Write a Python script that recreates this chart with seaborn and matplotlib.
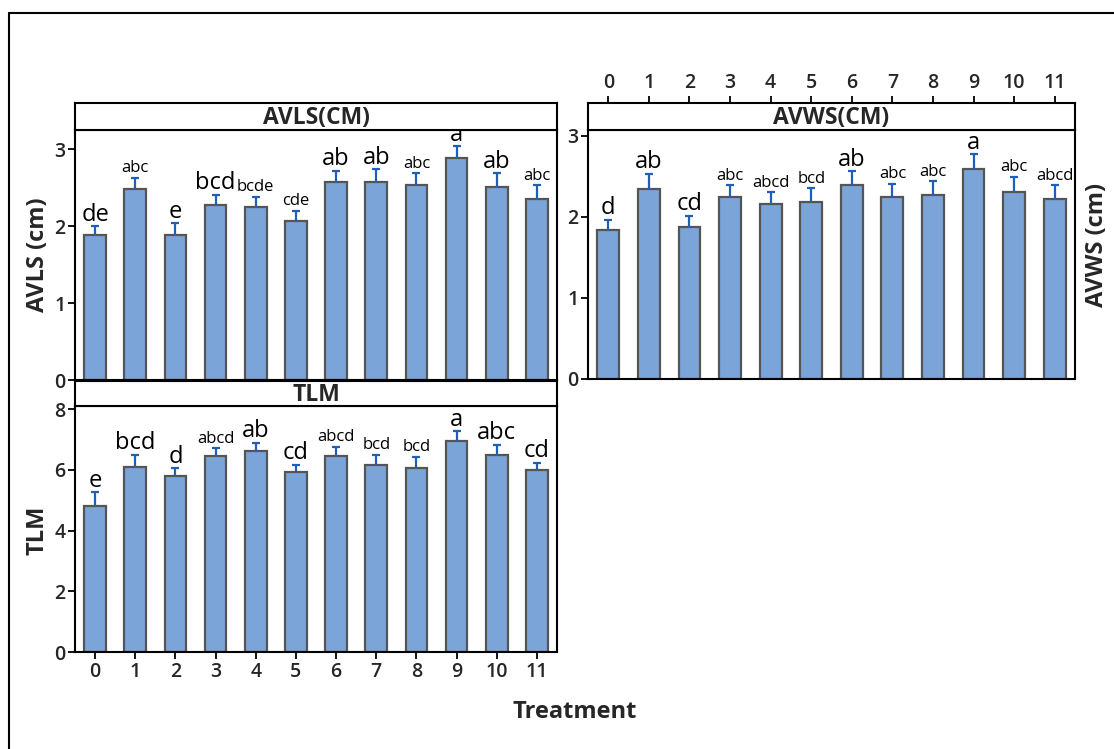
import numpy as np
import pandas as pd
import matplotlib
matplotlib.use("Agg")
import matplotlib.pyplot as plt
import seaborn as sns
from matplotlib.lines import Line2D

# ---------------- data ----------------
treatments = list(range(12))
tick_labels = [str(t) for t in treatments]

avls_mean = [1.89, 2.48, 1.89, 2.28, 2.25, 2.07, 2.58, 2.58, 2.53, 2.89, 2.51, 2.35]
avls_se = [0.11, 0.15, 0.15, 0.13, 0.13, 0.13, 0.14, 0.16, 0.16, 0.15, 0.18, 0.18]
avls_letters = ["de", "abc", "e", "bcd", "bcde", "cde", "ab", "ab", "abc", "a", "ab", "abc"]
avls_big = [1, 0, 1, 1, 0, 0, 1, 1, 0, 1, 1, 0]

avws_mean = [1.84, 2.34, 1.87, 2.25, 2.16, 2.18, 2.39, 2.25, 2.27, 2.59, 2.30, 2.22]
avws_se = [0.12, 0.19, 0.14, 0.14, 0.14, 0.17, 0.17, 0.16, 0.17, 0.18, 0.19, 0.17]
avws_letters = ["d", "ab", "cd", "abc", "abcd", "bcd", "ab", "abc", "abc", "a", "abc", "abcd"]
avws_big = [1, 1, 1, 0, 0, 0, 1, 0, 0, 1, 0, 0]

tlm_mean = [4.82, 6.10, 5.80, 6.44, 6.63, 5.92, 6.44, 6.17, 6.05, 6.95, 6.50, 5.98]
tlm_se = [0.44, 0.40, 0.25, 0.27, 0.25, 0.25, 0.32, 0.32, 0.38, 0.32, 0.32, 0.25]
tlm_letters = ["e", "bcd", "d", "abcd", "ab", "cd", "abcd", "bcd", "bcd", "a", "abc", "cd"]
tlm_big = [1, 1, 1, 0, 1, 1, 0, 0, 0, 1, 1, 1]

panel_titles = ["AVLS(CM)", "AVWS(CM)", "TLM"]
y_titles = ["AVLS (cm)", "AVWS (cm)", "TLM"]
x_title = "Treatment"

# ---------------- style ----------------
sns.set_theme(style="white")
plt.rcParams["font.family"] = ["Open Sans", "DejaVu Sans"]
plt.rcParams["axes.linewidth"] = 1.5

BAR_COLOR = "#7ba4d8"
EDGE_COLOR = "#555555"
ERR_COLOR = "#1f5fb8"
BIG, SMALL = 17, 12
TICK_FS = 14

W, H = 1114, 749
fig = plt.figure(figsize=(W / 100, H / 100), dpi=100)


def fx(px):
    return px / W


def fy(py):
    return 1 - py / H


def rect(x0, y0, x1, y1):
    return [fx(x0), fy(y1), fx(x1) - fx(x0), fy(y0) - fy(y1)]


def draw_panel(plot_rect, strip_rect, means, ses, letters, bigs, title, ymax, yticks,
               show_bottom_labels=False, top_labels=False):
    ax = fig.add_axes(rect(*plot_rect))
    df = pd.DataFrame({"Treatment": tick_labels, "value": means})
    sns.barplot(data=df, x="Treatment", y="value", order=tick_labels, ax=ax,
                color=BAR_COLOR, saturation=1, width=0.54, errorbar=None,
                edgecolor=EDGE_COLOR, linewidth=1.6)
    x = np.arange(len(means))
    m = np.array(means)
    s = np.array(ses)
    eb = ax.errorbar(x, m, yerr=[np.zeros_like(s), s], fmt="none", ecolor=ERR_COLOR,
                     elinewidth=1.6, capsize=3, capthick=1.6, zorder=3)
    eb[1][0].set_visible(False)
    for xi, yi, lab, big in zip(x, m + s, letters, bigs):
        ax.annotate(lab, (xi, yi), xytext=(0, 4), textcoords="offset points",
                    ha="center", va="baseline", fontsize=BIG if big else SMALL,
                    color="black")
    ax.set_xlim(-0.5, len(means) - 0.5)
    ax.set_ylim(0, ymax)
    ax.set_yticks(yticks)
    ax.set_yticklabels([str(v) for v in yticks], fontsize=TICK_FS, fontweight="semibold")
    ax.set_xlabel("")
    ax.set_ylabel("")
    for sp in ax.spines.values():
        sp.set_color("black")
        sp.set_linewidth(1.5)
    ax.tick_params(axis="y", direction="out", length=5, width=1.3, color="black",
                   left=True, pad=2)
    if show_bottom_labels:
        ax.tick_params(axis="x", direction="out", length=5, width=1.3, color="black",
                       bottom=True, pad=2)
        ax.set_xticks(x)
        ax.set_xticklabels(tick_labels, fontsize=TICK_FS, fontweight="semibold")
    else:
        ax.tick_params(axis="x", bottom=False, labelbottom=False)

    sax = fig.add_axes(rect(*strip_rect))
    sax.set_xlim(-0.5, len(means) - 0.5)
    sax.set_ylim(0, 1)
    sax.set_yticks([])
    for sp in sax.spines.values():
        sp.set_color("black")
        sp.set_linewidth(1.5)
    sax.text(0.5, 0.45, title, transform=sax.transAxes, ha="center", va="center",
             fontsize=16.5, fontweight="bold")
    if top_labels:
        sax.set_xticks(x)
        sax.set_xticklabels(tick_labels, fontsize=TICK_FS, fontweight="semibold")
        sax.tick_params(axis="x", top=True, labeltop=True, bottom=False,
                        labelbottom=False, direction="out", length=5, width=1.3,
                        color="black", pad=2)
    else:
        sax.set_xticks([])
    return ax


draw_panel((75, 130, 557, 380), (75, 103, 557, 130), avls_mean, avls_se, avls_letters,
           avls_big, panel_titles[0], 3.25, [0, 1, 2, 3])
draw_panel((588, 130, 1075, 379), (588, 103, 1075, 130), avws_mean, avws_se, avws_letters,
           avws_big, panel_titles[1], 3.07, [0, 1, 2, 3], top_labels=True)
draw_panel((75, 406, 557, 652), (75, 381, 557, 406), tlm_mean, tlm_se, tlm_letters,
           tlm_big, panel_titles[2], 8.1, [0, 2, 4, 6, 8], show_bottom_labels=True)

fig.text(fx(38), fy(255), y_titles[0], rotation=90, ha="center", va="center",
         fontsize=17, fontweight="bold")
fig.text(fx(1097), fy(245), y_titles[1], rotation=90, ha="center", va="center",
         fontsize=17, fontweight="bold")
fig.text(fx(38), fy(530), y_titles[2], rotation=90, ha="center", va="center",
         fontsize=17, fontweight="bold")
fig.text(fx(575), fy(712), x_title, ha="center", va="center", fontsize=17,
         fontweight="bold")

# outer frame (top and left edges)
fig.add_artist(Line2D([fx(9), 1.0], [fy(13), fy(13)], color="black", lw=1.5,
                      transform=fig.transFigure))
fig.add_artist(Line2D([fx(9), fx(9)], [fy(13), 0.0], color="black", lw=1.5,
                      transform=fig.transFigure))

fig.savefig("out.png", dpi=100, facecolor="white")
